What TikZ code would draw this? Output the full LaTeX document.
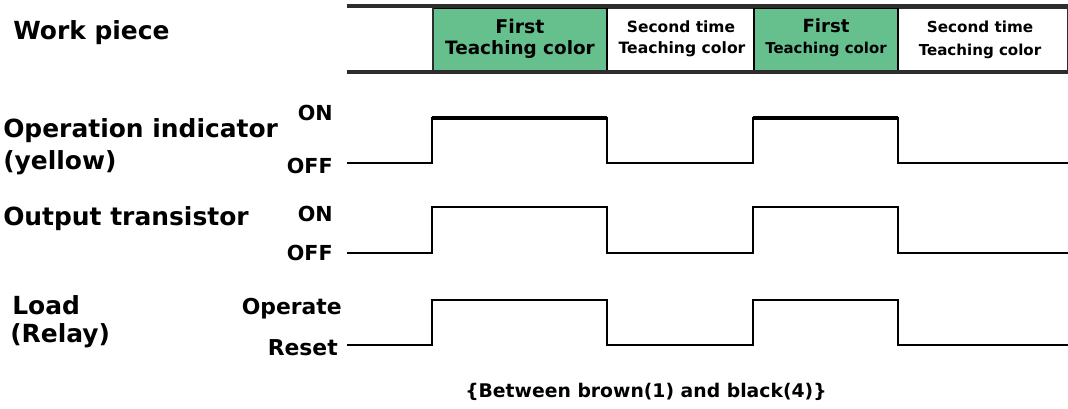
\documentclass[tikz,border=0pt]{standalone}
\usepackage{fontspec}
\setmainfont{DejaVu Sans}
\definecolor{teachgreen}{RGB}{102,192,142}
\definecolor{stripgray}{RGB}{45,45,45}
\tikzset{
  lbl/.style={inner sep=0pt, font=\bfseries\fontsize{18.7}{20}\selectfont},
  lvl/.style={inner sep=0pt, font=\bfseries\fontsize{15.5}{18}\selectfont},
  lvlb/.style={inner sep=0pt, font=\bfseries\fontsize{16.4}{18}\selectfont},
  cellt/.style={inner sep=0pt, anchor=base, font=\bfseries\fontsize{#1}{#1}\selectfont},
  greencell/.style={draw=black, line width=1.2pt, fill=teachgreen},
  whitecell/.style={draw=stripgray, line width=1pt, fill=white},
  wave/.style={line width=1.6pt, line join=miter},
  stripline/.style={draw=stripgray, line width=2.4pt},
  caption/.style={inner sep=0pt, font=\bfseries\fontsize{14.1}{16}\selectfont}
}
\begin{document}
\begin{tikzpicture}[x=0.75pt,y=-0.75pt]
\useasboundingbox (0,0) rectangle (1068,409);

% --- Work piece strip ---
\path[whitecell] (607,8) rectangle (754,71);
\path[whitecell] (898,8) rectangle (1068,71);
\path[greencell] (433,8) rectangle (607,71);
\path[greencell] (754,8) rectangle (898,71);
\draw[stripgray, line width=0.8pt] (433,8) -- (433,71);
\draw[stripline] (347,6) -- (1068,6);
\draw[stripline] (347,72) -- (1068,72);

\node[lbl, anchor=base west] (wp) at (13,40) {Work piece};

\node[cellt=14.2] (c1a) at (520,34) {First};
\node[cellt=13.8] (c1b) at (520,55) {Teaching color};
\node[cellt=11.6] (c2a) at (681,33) {Second time};
\node[cellt=11.7] (c2b) at (682,54) {Teaching color};
\node[cellt=13.6] (c3a) at (826,33) {First};
\node[cellt=11.2] (c3b) at (826,54) {Teaching color};
\node[cellt=11.4] (c4a) at (980,33) {Second time};
\node[cellt=11.3] (c4b) at (980,56) {Teaching color};

% --- Row labels ---
\node[lbl, anchor=base west] (op1) at (3,138) {Operation indicator};
\node[lbl, anchor=base west] (op2) at (3,170) {(yellow)};
\node[lbl, anchor=base west] (ot) at (3,226) {Output transistor};
\node[lbl, anchor=base west] (ld1) at (12,315) {Load};
\node[lbl, anchor=base west] (ld2) at (10,343) {(Relay)};

\node[lvl, anchor=base east] (on1) at (333,121) {ON};
\node[lvl, anchor=base east] (off1) at (333,174) {OFF};
\node[lvl, anchor=base east] (on2) at (333,222) {ON};
\node[lvl, anchor=base east] (off2) at (333,261) {OFF};
\node[lvlb, anchor=base east] (opr) at (342,315) {Operate};
\node[lvlb, anchor=base east] (rst) at (338,356) {Reset};

% --- Waveforms ---
\draw[wave] (347,163) -- (432,163) -- (432,118) -- (607,118) -- (607,163)
  -- (753,163) -- (753,118) -- (898,118) -- (898,163) -- (1068,163);
\draw[line width=2.4pt] (432,118) -- (607,118);
\draw[line width=2.4pt] (753,118) -- (898,118);
\draw[wave] (347,253) -- (432,253) -- (432,207) -- (607,207) -- (607,253)
  -- (753,253) -- (753,207) -- (898,207) -- (898,253) -- (1068,253);
\draw[wave] (347,345) -- (432,345) -- (432,300) -- (607,300) -- (607,345)
  -- (753,345) -- (753,300) -- (898,300) -- (898,345) -- (1068,345);

\node[caption, anchor=base west] (cap) at (465,398) {\{Between brown(1) and black(4)\}};
\end{tikzpicture}
\end{document}
